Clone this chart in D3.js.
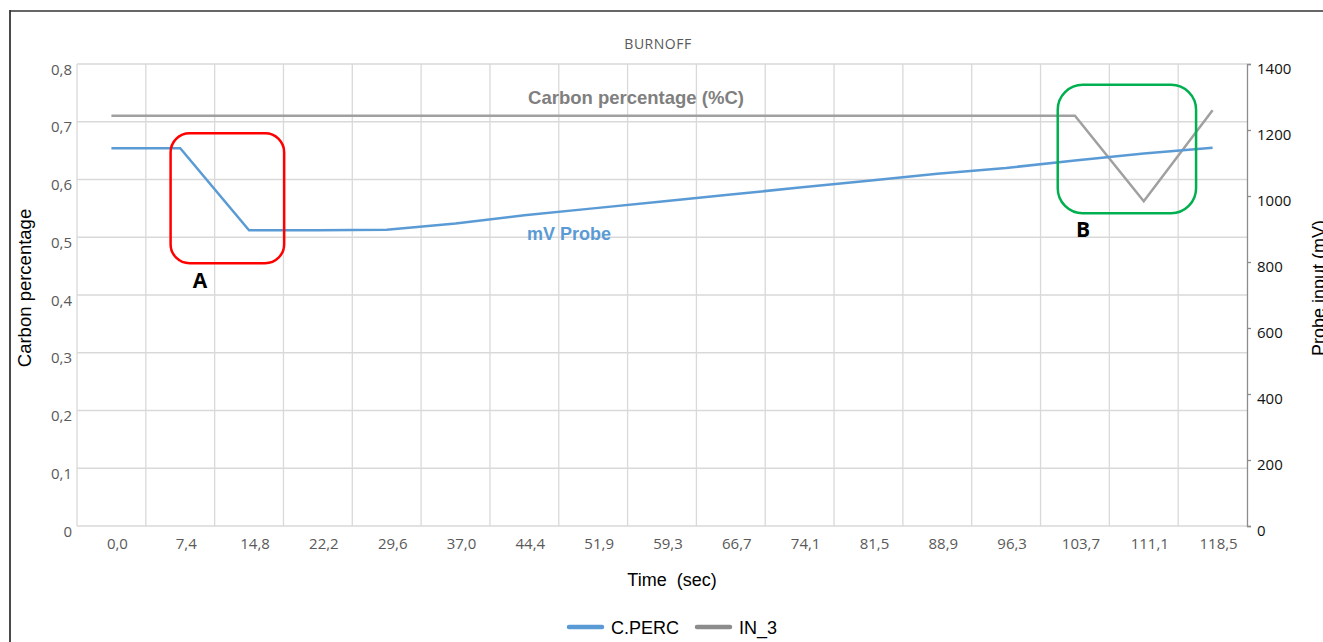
<!DOCTYPE html>
<html>
<head>
<meta charset="utf-8">
<script src="https://cdn.jsdelivr.net/npm/d3@7"></script>
<style>
  body { margin: 0; background: #fff; }
  svg { display: block; }
  .axis text { font-family: 'Open Sans', sans-serif; font-size: 15px; }
</style>
</head>
<body>
<div id="chart"></div>
<script>
// time labels along the bottom (sec)
let timeLabels = ['0,0', '7,4', '14,8', '22,2', '29,6', '37,0', '44,4', '51,9', '59,3',
  '66,7', '74,1', '81,5', '88,9', '96,3', '103,7', '111,1', '118,5']

// C.PERC, left axis (carbon percentage)
let cPerc = [0.654, 0.654, 0.512, 0.512, 0.513, 0.524, 0.538, 0.550, 0.562,
  0.574, 0.586, 0.598, 0.610, 0.620, 0.633, 0.645, 0.655]

// IN_3, right axis (probe input, mV)
let in3 = [1243, 1243, 1243, 1243, 1243, 1243, 1243, 1243, 1243,
  1243, 1243, 1243, 1243, 1243, 1243, 984, 1260]

let leftTicks = [0, 0.1, 0.2, 0.3, 0.4, 0.5, 0.6, 0.7, 0.8]
let rightTicks = [0, 200, 400, 600, 800, 1000, 1200, 1400]

// highlight boxes, in band units (x) and carbon percentage (y)
let boxes = [
  { label: 'A', x0: 1.36, x1: 3.01, y0: 0.455, y1: 0.680, color: '#ff0000', r: 19 },
  { label: 'B', x0: 14.25, x1: 16.26, y0: 0.5415, y1: 0.764, color: '#00b050', r: 25 }
]

;(function() {
  let margin = { top: 64, left: 77, right: 76, bottom: 116 }
  let totalW = 1323
  let totalH = 642
  let width = totalW - margin.left - margin.right
  let height = totalH - margin.top - margin.bottom

  let root = d3.select('#chart')
    .append('svg')
    .attr('width', totalW)
    .attr('height', totalH)

  // outer frame (left and top edges only are visible)
  root.append('line')
    .attr('x1', 10).attr('x2', 10).attr('y1', 10).attr('y2', totalH)
    .attr('stroke', '#4a4a4a').attr('stroke-width', 2)
  root.append('line')
    .attr('x1', 10).attr('x2', totalW).attr('y1', 11).attr('y2', 11)
    .attr('stroke', '#333').attr('stroke-width', 1.3)

  let svg = root.append('g')
    .attr('transform', 'translate(' + margin.left + ',' + margin.top + ')')

  let xBand = d3.scaleBand()
    .domain(timeLabels)
    .range([0, width])
  let xIdx = d3.scaleLinear().domain([0, timeLabels.length]).range([0, width])
  let yLeft = d3.scaleLinear().domain([0, 0.8]).range([height, 0])
  let yRight = d3.scaleLinear().domain([0, 1400]).range([height, 0])

  let comma = d3.formatLocale({ decimal: ',', thousands: '.', grouping: [3], currency: ['', ''] })
  let leftFmt = d => d === 0 ? '0' : comma.format('.1f')(d)

  // gridlines
  svg.append('g')
    .selectAll('line')
    .data(leftTicks)
    .enter()
    .append('line')
    .attr('x1', 0).attr('x2', width)
    .attr('y1', d => yLeft(d)).attr('y2', d => yLeft(d))
    .attr('stroke', '#d9d9d9').attr('stroke-width', 1.3)

  svg.append('g')
    .selectAll('line')
    .data(d3.range(0, timeLabels.length))
    .enter()
    .append('line')
    .attr('x1', d => xIdx(d)).attr('x2', d => xIdx(d))
    .attr('y1', 0).attr('y2', height)
    .attr('stroke', '#d9d9d9').attr('stroke-width', 1.3)

  // left axis
  let yAxis = d3.axisLeft(yLeft).tickValues(leftTicks).tickFormat(leftFmt).tickSize(0).tickPadding(5)
  let yG = svg.append('g')
    .attr('class', 'axis y-axis')
    .call(yAxis)
  yG.select('.domain').remove()
  yG.selectAll('text').attr('fill', '#595959').attr('dy', 10).attr('y', 0)

  // right axis
  let yAxisR = d3.axisRight(yRight).tickValues(rightTicks).tickFormat(d3.format('d')).tickSize(4).tickPadding(6)
  let yRG = svg.append('g')
    .attr('class', 'axis y-right')
    .attr('transform', 'translate(' + width + ',0)')
    .call(yAxisR)
  yRG.select('.domain').attr('stroke', '#8c8c8c').attr('stroke-width', 1.3)
  yRG.selectAll('.tick line').attr('stroke', '#8c8c8c').attr('stroke-width', 1.3)
  yRG.selectAll('text').attr('fill', '#111').attr('dy', 9).attr('y', 0)

  // bottom axis
  let xAxis = d3.axisBottom(xBand).tickSize(0).tickPadding(12)
  let xG = svg.append('g')
    .attr('class', 'axis x-axis')
    .attr('transform', 'translate(0,' + height + ')')
    .call(xAxis)
  xG.select('.domain').remove()
  xG.selectAll('text').attr('fill', '#595959').attr('dx', 6)

  // lines
  let lineLeft = d3.line()
    .x((d, i) => xBand(timeLabels[i]) + xBand.bandwidth() / 2)
    .y(d => yLeft(d))
  let lineRight = d3.line()
    .x((d, i) => xBand(timeLabels[i]) + xBand.bandwidth() / 2)
    .y(d => yRight(d))

  svg.append('path')
    .datum(in3)
    .attr('d', lineRight)
    .attr('fill', 'none')
    .attr('stroke', '#a0a0a0')
    .attr('stroke-width', 2.5)

  svg.append('path')
    .datum(cPerc)
    .attr('d', lineLeft)
    .attr('fill', 'none')
    .attr('stroke', '#5b9bd5')
    .attr('stroke-width', 2.5)

  // highlight boxes
  boxes.forEach(function(b) {
    svg.append('rect')
      .attr('x', xIdx(b.x0))
      .attr('y', yLeft(b.y1))
      .attr('width', xIdx(b.x1) - xIdx(b.x0))
      .attr('height', yLeft(b.y0) - yLeft(b.y1))
      .attr('rx', b.r)
      .attr('fill', 'none')
      .attr('stroke', b.color)
      .attr('stroke-width', 2.5)
  })

  // box letters
  root.append('text')
    .attr('x', 200).attr('y', 288)
    .attr('text-anchor', 'middle')
    .attr('font-family', 'Open Sans, sans-serif').attr('font-weight', 'bold').attr('font-size', 21)
    .text('A')
  root.append('text')
    .attr('x', 1083).attr('y', 237)
    .attr('text-anchor', 'middle')
    .attr('font-family', 'Open Sans, sans-serif').attr('font-weight', 'bold').attr('font-size', 21)
    .text('B')

  // series annotations
  root.append('text')
    .attr('x', 636).attr('y', 104)
    .attr('text-anchor', 'middle')
    .attr('font-family', 'Liberation Sans, Arial, sans-serif').attr('font-weight', 'bold').attr('font-size', 18.5)
    .attr('fill', '#7f7f7f')
    .text('Carbon percentage (%C)')
  root.append('text')
    .attr('x', 569).attr('y', 240)
    .attr('text-anchor', 'middle')
    .attr('font-family', 'Liberation Sans, Arial, sans-serif').attr('font-weight', 'bold').attr('font-size', 18)
    .attr('fill', '#5b9bd5')
    .text('mV Probe')

  // title
  root.append('text')
    .attr('x', 658).attr('y', 49)
    .attr('text-anchor', 'middle')
    .attr('font-family', 'Open Sans, sans-serif').attr('font-size', 14)
    .attr('letter-spacing', 0.5)
    .attr('fill', '#595959')
    .text('BURNOFF')

  // axis titles
  root.append('text')
    .attr('transform', 'translate(31,288) rotate(-90)')
    .attr('text-anchor', 'middle')
    .attr('font-family', 'Liberation Sans, Arial, sans-serif').attr('font-size', 18.5)
    .attr('fill', '#000')
    .text('Carbon percentage')
  root.append('text')
    .attr('transform', 'translate(1325,288) rotate(-90)')
    .attr('text-anchor', 'middle')
    .attr('font-family', 'Liberation Sans, Arial, sans-serif').attr('font-size', 18)
    .attr('fill', '#000')
    .text('Probe input (mV)')
  root.append('text')
    .attr('x', 672).attr('y', 586)
    .attr('text-anchor', 'middle')
    .attr('font-family', 'Liberation Sans, Arial, sans-serif').attr('font-size', 18)
    .attr('fill', '#000')
    .attr('xml:space', 'preserve')
    .style('white-space', 'pre')
    .text('Time  (sec)')

  // legend
  let legend = [
    { name: 'C.PERC', color: '#5b9bd5', x: 567 },
    { name: 'IN_3', color: '#8c8c8c', x: 695 }
  ]
  let lg = root.append('g')
    .selectAll('g')
    .data(legend)
    .enter()
    .append('g')
    .attr('transform', d => 'translate(' + d.x + ',627)')
  lg.append('line')
    .attr('x1', 2).attr('x2', 35)
    .attr('stroke', d => d.color)
    .attr('stroke-width', 4.5)
    .attr('stroke-linecap', 'round')
  lg.append('text')
    .attr('x', 44).attr('y', 6.5)
    .attr('font-family', 'Liberation Sans, Arial, sans-serif').attr('font-size', 18)
    .attr('fill', '#000')
    .text(d => d.name)
})()
</script>
</body>
</html>
